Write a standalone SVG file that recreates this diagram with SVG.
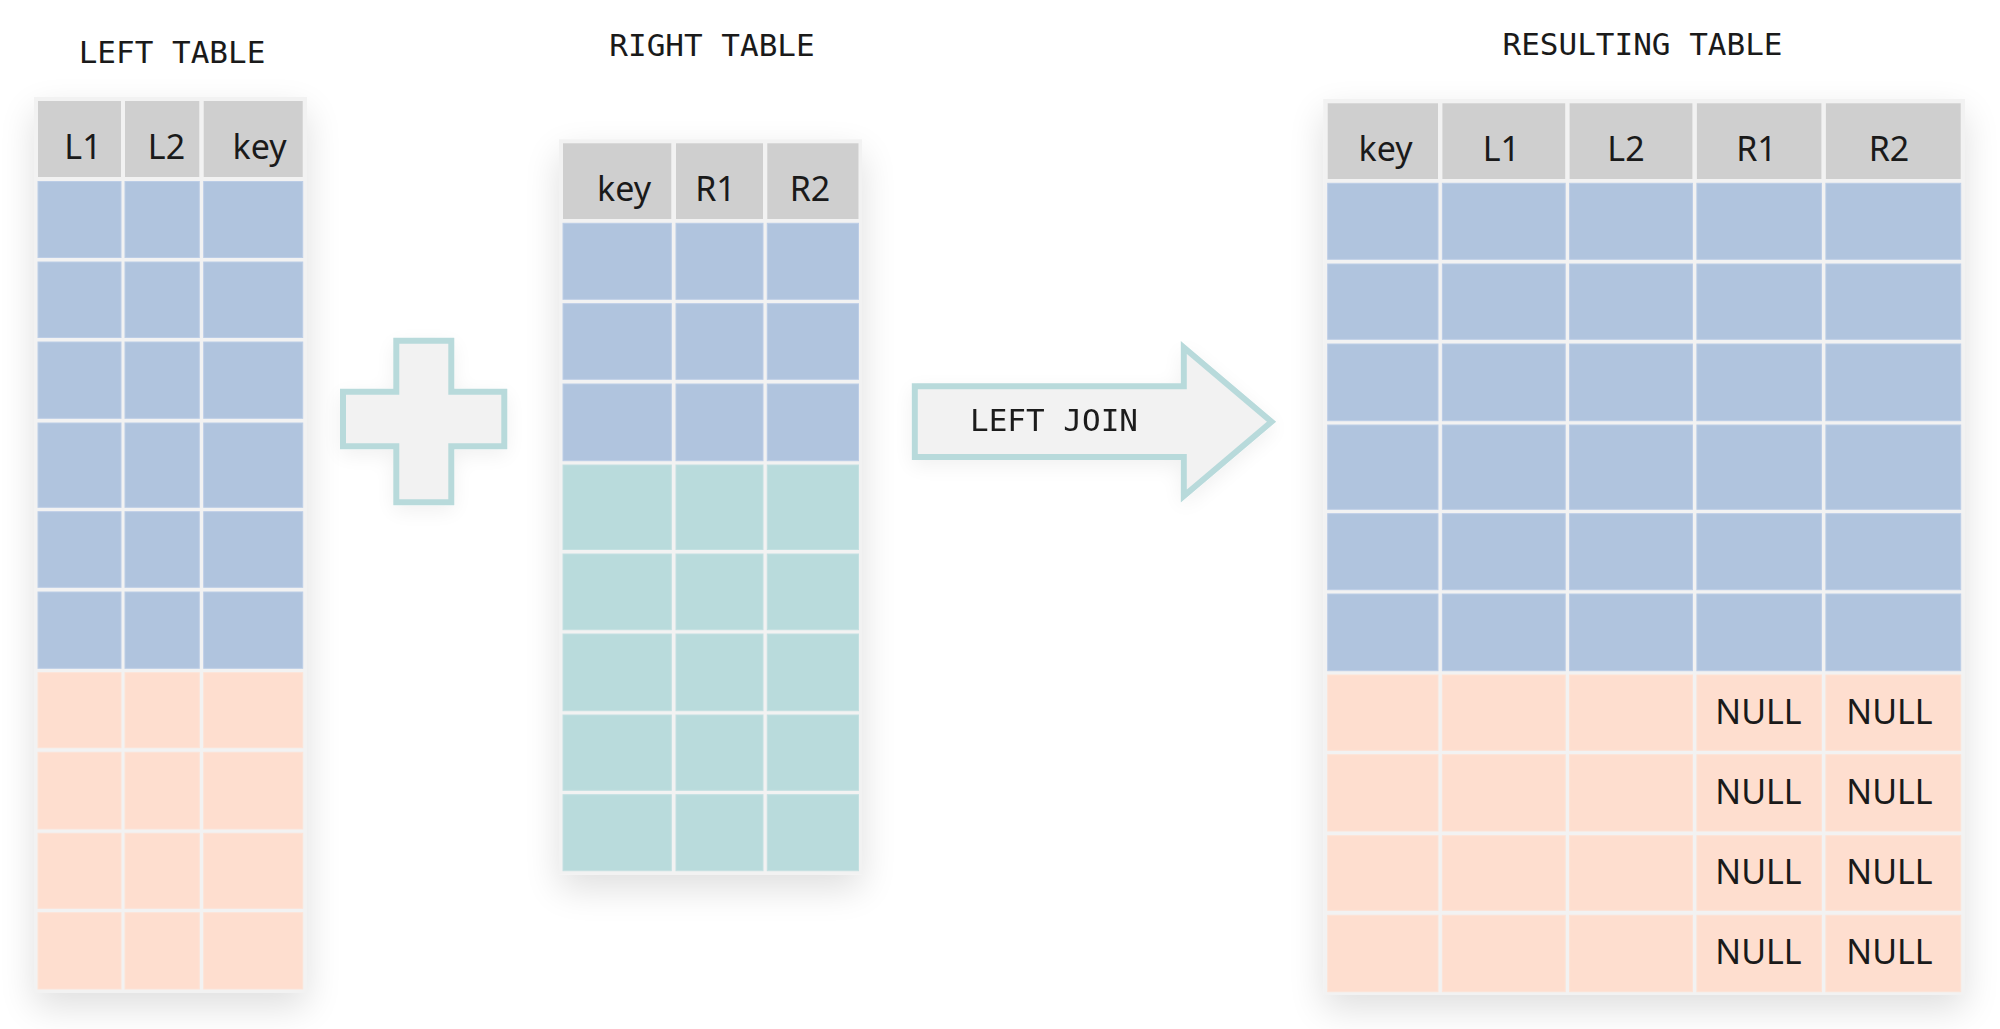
<svg xmlns="http://www.w3.org/2000/svg" width="2000" height="1029" viewBox="0 0 2000 1029">
<defs>
<filter id="sh" x="-40%" y="-20%" width="180%" height="150%">
<feGaussianBlur in="SourceAlpha" stdDeviation="18"/>
<feOffset dy="14"/>
<feComponentTransfer><feFuncA type="linear" slope="0.13"/></feComponentTransfer>
<feMerge><feMergeNode/><feMergeNode in="SourceGraphic"/></feMerge>
</filter>
<filter id="sh2" x="-30%" y="-30%" width="160%" height="160%">
<feGaussianBlur in="SourceAlpha" stdDeviation="10"/>
<feOffset dy="6"/>
<feComponentTransfer><feFuncA type="linear" slope="0.06"/></feComponentTransfer>
<feMerge><feMergeNode/><feMergeNode in="SourceGraphic"/></feMerge>
</filter>
</defs>
<style>
.bg{fill:#f2f2f2}
.h{fill:#cfcfcf}
.b{fill:#b0c4de;stroke:#bccde6;stroke-width:1}
.p{fill:#fedecf;stroke:#fde3d6;stroke-width:1}
.t{fill:#b9dbdc;stroke:#c3e0e1;stroke-width:1}
.title{font-family:"DejaVu Sans Mono","Liberation Mono",monospace;font-size:31px;fill:#1a1a1a;text-anchor:middle}
.hd{font-family:"Noto Sans","Open Sans",sans-serif;font-size:34px;fill:#1a1a1a;text-anchor:middle}
.shape{fill:#f2f2f2;stroke:#b8dadb;stroke-width:6}
</style>
<rect width="2000" height="1029" fill="#ffffff"/>

<g id="left-table">
<text class="title" x="172" y="63">LEFT TABLE</text>
<rect class="bg" x="34" y="97" width="273" height="896" filter="url(#sh)"/>
<rect class="h" x="38" y="101" width="83" height="76"/>
<rect class="h" x="125" y="101" width="74.3" height="76"/>
<rect class="h" x="203.7" y="101" width="99" height="76"/>
<text class="hd" x="83" y="159">L1</text>
<text class="hd" x="166.5" y="159">L2</text>
<text class="hd" x="259.5" y="159">key</text>
<rect class="b" x="38" y="181.5" width="83" height="76"/><rect class="b" x="125" y="181.5" width="74.3" height="76"/><rect class="b" x="203.7" y="181.5" width="99" height="76"/>
<rect class="b" x="38" y="262" width="83" height="75.5"/><rect class="b" x="125" y="262" width="74.3" height="75.5"/><rect class="b" x="203.7" y="262" width="99" height="75.5"/>
<rect class="b" x="38" y="342" width="83" height="76.3"/><rect class="b" x="125" y="342" width="74.3" height="76.3"/><rect class="b" x="203.7" y="342" width="99" height="76.3"/>
<rect class="b" x="38" y="423" width="83" height="84.3"/><rect class="b" x="125" y="423" width="74.3" height="84.3"/><rect class="b" x="203.7" y="423" width="99" height="84.3"/>
<rect class="b" x="38" y="511.7" width="83" height="75.6"/><rect class="b" x="125" y="511.7" width="74.3" height="75.6"/><rect class="b" x="203.7" y="511.7" width="99" height="75.6"/>
<rect class="b" x="38" y="592" width="83" height="76.3"/><rect class="b" x="125" y="592" width="74.3" height="76.3"/><rect class="b" x="203.7" y="592" width="99" height="76.3"/>
<rect class="p" x="38" y="672.7" width="83" height="75"/><rect class="p" x="125" y="672.7" width="74.3" height="75"/><rect class="p" x="203.7" y="672.7" width="99" height="75"/>
<rect class="p" x="38" y="752.3" width="83" height="76.7"/><rect class="p" x="125" y="752.3" width="74.3" height="76.7"/><rect class="p" x="203.7" y="752.3" width="99" height="76.7"/>
<rect class="p" x="38" y="833.3" width="83" height="75"/><rect class="p" x="125" y="833.3" width="74.3" height="75"/><rect class="p" x="203.7" y="833.3" width="99" height="75"/>
<rect class="p" x="38" y="912.7" width="83" height="76.3"/><rect class="p" x="125" y="912.7" width="74.3" height="76.3"/><rect class="p" x="203.7" y="912.7" width="99" height="76.3"/>
</g>

<g id="plus" filter="url(#sh2)">
<polygon class="shape" points="396.3,340.7 451.3,340.7 451.3,391.7 504.3,391.7 504.3,446.3 451.3,446.3 451.3,502.3 396.3,502.3 396.3,446.3 343,446.3 343,391.7 396.3,391.7"/>
</g>

<g id="right-table">
<text class="title" x="712" y="56">RIGHT TABLE</text>
<rect class="bg" x="559" y="139.3" width="303" height="735.4" filter="url(#sh)"/>
<rect class="h" x="563" y="143.3" width="108.3" height="75.7"/>
<rect class="h" x="676" y="143.3" width="87" height="75.7"/>
<rect class="h" x="767.3" y="143.3" width="91.2" height="75.7"/>
<text class="hd" x="624" y="200.7">key</text>
<text class="hd" x="715.5" y="200.7">R1</text>
<text class="hd" x="810" y="200.7">R2</text>
<rect class="b" x="563" y="223.3" width="108.3" height="76"/><rect class="b" x="676" y="223.3" width="87" height="76"/><rect class="b" x="767.3" y="223.3" width="91.2" height="76"/>
<rect class="b" x="563" y="303.7" width="108.3" height="75.6"/><rect class="b" x="676" y="303.7" width="87" height="75.6"/><rect class="b" x="767.3" y="303.7" width="91.2" height="75.6"/>
<rect class="b" x="563" y="384" width="108.3" height="76.7"/><rect class="b" x="676" y="384" width="87" height="76.7"/><rect class="b" x="767.3" y="384" width="91.2" height="76.7"/>
<rect class="t" x="563" y="465" width="108.3" height="84.5"/><rect class="t" x="676" y="465" width="87" height="84.5"/><rect class="t" x="767.3" y="465" width="91.2" height="84.5"/>
<rect class="t" x="563" y="554" width="108.3" height="75.7"/><rect class="t" x="676" y="554" width="87" height="75.7"/><rect class="t" x="767.3" y="554" width="91.2" height="75.7"/>
<rect class="t" x="563" y="634" width="108.3" height="76.7"/><rect class="t" x="676" y="634" width="87" height="76.7"/><rect class="t" x="767.3" y="634" width="91.2" height="76.7"/>
<rect class="t" x="563" y="715" width="108.3" height="75.3"/><rect class="t" x="676" y="715" width="87" height="75.3"/><rect class="t" x="767.3" y="715" width="91.2" height="75.3"/>
<rect class="t" x="563" y="794.7" width="108.3" height="76"/><rect class="t" x="676" y="794.7" width="87" height="76"/><rect class="t" x="767.3" y="794.7" width="91.2" height="76"/>
</g>

<g id="connectors">
<g id="left-join-arrow" filter="url(#sh2)">
<polygon class="shape" points="914.8,386.3 1183.8,386.3 1183.8,347.5 1271.5,421.7 1183.8,496 1183.8,457 914.8,457"/>
<text class="title" x="1054" y="431">LEFT JOIN</text>
</g>
</g>

<g id="resulting-table">
<text class="title" x="1642.5" y="55">RESULTING TABLE</text>
<rect class="bg" x="1323.2" y="99" width="641.8" height="896" filter="url(#sh)"/>
<rect class="h" x="1327.7" y="103.3" width="110.3" height="75.7"/>
<rect class="h" x="1442.4" y="103.3" width="122.8" height="75.7"/>
<rect class="h" x="1569.6" y="103.3" width="122.8" height="75.7"/>
<rect class="h" x="1696.9" y="103.3" width="124.5" height="75.7"/>
<rect class="h" x="1825.9" y="103.3" width="134.8" height="75.7"/>
<text class="hd" x="1385.5" y="161">key</text>
<text class="hd" x="1501.4" y="161">L1</text>
<text class="hd" x="1626" y="161">L2</text>
<text class="hd" x="1756.5" y="161">R1</text>
<text class="hd" x="1889" y="161">R2</text>
<g class="b">
<rect x="1327.7" y="183.3" width="110.3" height="76"/><rect x="1442.4" y="183.3" width="122.8" height="76"/><rect x="1569.6" y="183.3" width="122.8" height="76"/><rect x="1696.9" y="183.3" width="124.5" height="76"/><rect x="1825.9" y="183.3" width="134.8" height="76"/>
<rect x="1327.7" y="264" width="110.3" height="75.3"/><rect x="1442.4" y="264" width="122.8" height="75.3"/><rect x="1569.6" y="264" width="122.8" height="75.3"/><rect x="1696.9" y="264" width="124.5" height="75.3"/><rect x="1825.9" y="264" width="134.8" height="75.3"/>
<rect x="1327.7" y="344" width="110.3" height="76.7"/><rect x="1442.4" y="344" width="122.8" height="76.7"/><rect x="1569.6" y="344" width="122.8" height="76.7"/><rect x="1696.9" y="344" width="124.5" height="76.7"/><rect x="1825.9" y="344" width="134.8" height="76.7"/>
<rect x="1327.7" y="425" width="110.3" height="84.3"/><rect x="1442.4" y="425" width="122.8" height="84.3"/><rect x="1569.6" y="425" width="122.8" height="84.3"/><rect x="1696.9" y="425" width="124.5" height="84.3"/><rect x="1825.9" y="425" width="134.8" height="84.3"/>
<rect x="1327.7" y="513.7" width="110.3" height="76"/><rect x="1442.4" y="513.7" width="122.8" height="76"/><rect x="1569.6" y="513.7" width="122.8" height="76"/><rect x="1696.9" y="513.7" width="124.5" height="76"/><rect x="1825.9" y="513.7" width="134.8" height="76"/>
<rect x="1327.7" y="594" width="110.3" height="76.7"/><rect x="1442.4" y="594" width="122.8" height="76.7"/><rect x="1569.6" y="594" width="122.8" height="76.7"/><rect x="1696.9" y="594" width="124.5" height="76.7"/><rect x="1825.9" y="594" width="134.8" height="76.7"/>
</g>
<g class="p">
<rect x="1327.7" y="675" width="110.3" height="75.3"/><rect x="1442.4" y="675" width="122.8" height="75.3"/><rect x="1569.6" y="675" width="122.8" height="75.3"/><rect x="1696.9" y="675" width="124.5" height="75.3"/><rect x="1825.9" y="675" width="134.8" height="75.3"/>
<rect x="1327.7" y="754.7" width="110.3" height="76.3"/><rect x="1442.4" y="754.7" width="122.8" height="76.3"/><rect x="1569.6" y="754.7" width="122.8" height="76.3"/><rect x="1696.9" y="754.7" width="124.5" height="76.3"/><rect x="1825.9" y="754.7" width="134.8" height="76.3"/>
<rect x="1327.7" y="835.7" width="110.3" height="74.6"/><rect x="1442.4" y="835.7" width="122.8" height="74.6"/><rect x="1569.6" y="835.7" width="122.8" height="74.6"/><rect x="1696.9" y="835.7" width="124.5" height="74.6"/><rect x="1825.9" y="835.7" width="134.8" height="74.6"/>
<rect x="1327.7" y="915.3" width="110.3" height="76.4"/><rect x="1442.4" y="915.3" width="122.8" height="76.4"/><rect x="1569.6" y="915.3" width="122.8" height="76.4"/><rect x="1696.9" y="915.3" width="124.5" height="76.4"/><rect x="1825.9" y="915.3" width="134.8" height="76.4"/>
</g>
<text class="hd" x="1758.5" y="724">NULL</text><text class="hd" x="1889.5" y="724">NULL</text>
<text class="hd" x="1758.5" y="804.3">NULL</text><text class="hd" x="1889.5" y="804.3">NULL</text>
<text class="hd" x="1758.5" y="884">NULL</text><text class="hd" x="1889.5" y="884">NULL</text>
<text class="hd" x="1758.5" y="964.3">NULL</text><text class="hd" x="1889.5" y="964.3">NULL</text>
</g>
</svg>
